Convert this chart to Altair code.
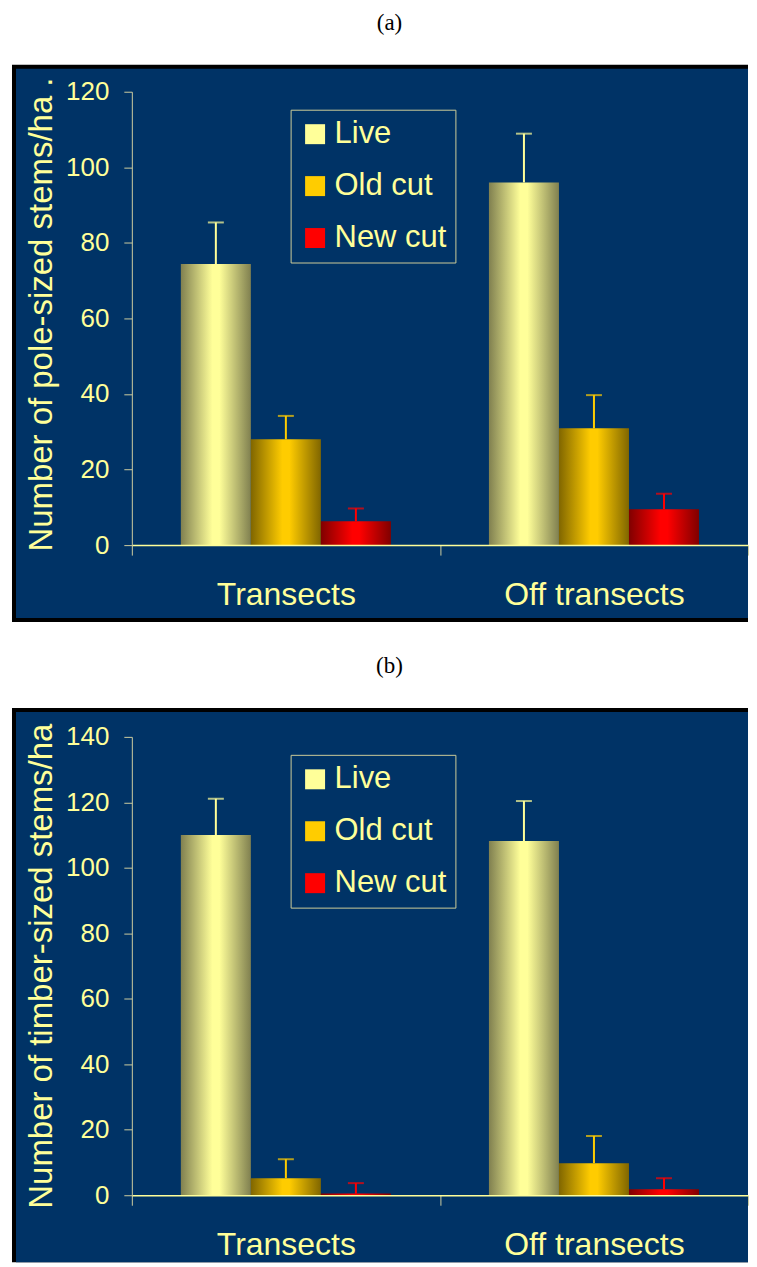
import altair as alt
import pandas as pd

# ---------------- data ----------------
groups = ["Transects", "Off transects"]
series = ["Live", "Old cut", "New cut"]

# (a) pole-sized stems/ha : means and upper error (SE) per group x series
pole_means = [74.4, 28.0, 6.3, 96.0, 30.9, 9.5]
pole_errs = [11.0, 6.2, 3.4, 12.9, 8.8, 4.1]

# (b) timber-sized stems/ha
timber_means = [110.0, 5.2, 0.5, 108.2, 9.8, 1.8]
timber_errs = [11.1, 5.8, 3.2, 12.2, 8.3, 3.4]

y_ticks_a = [0, 20, 40, 60, 80, 100, 120]
y_ticks_b = [0, 20, 40, 60, 80, 100, 120, 140]

light_colors = ["#FFFF99", "#FFCC00", "#FF0000"]
dark_colors = ["#808050", "#806600", "#800000"]

# ---------------- styling ----------------
FONT = "Liberation Sans"
NAVY = "#003366"
PALE = "#FFFF99"
AXISGREY = "#CDCDA0"
W = 617


def frame(means, errs):
    rows = []
    i = 0
    for g in groups:
        for s in series:
            rows.append({"group": g, "series": s, "mean": means[i],
                         "upper": means[i] + errs[i]})
            i += 1
    return pd.DataFrame(rows)


def grad(d, l):
    return {"gradient": "linear", "x1": 0, "x2": 1, "y1": 0, "y2": 0,
            "stops": [{"offset": 0, "color": d},
                      {"offset": 0.45, "color": l},
                      {"offset": 0.55, "color": l},
                      {"offset": 1, "color": d}]}


conds = [{"test": f"datum.series === '{s}'", "value": grad(d, l)}
         for s, d, l in zip(series, dark_colors, light_colors)]


def panel(df, ymax, yticks, H, ytitle, title_y, caption, caption_y,
          white_top, black_top, bottom, bottom_border):
    one = pd.DataFrame({"k": [0]})
    base = alt.Chart(one)
    white = base.mark_rect(fill="white").encode(
        x=alt.value(-120), x2=alt.value(W),
        y=alt.value(white_top), y2=alt.value(black_top))
    black = base.mark_rect(fill="black").encode(
        x=alt.value(-120), x2=alt.value(W),
        y=alt.value(black_top), y2=alt.value(bottom))
    navy = base.mark_rect(fill=NAVY).encode(
        x=alt.value(-116), x2=alt.value(W),
        y=alt.value(black_top + 4), y2=alt.value(bottom - bottom_border))
    cap = base.mark_text(text=caption, font="Liberation Serif", fontSize=23,
                         color="black", align="center",
                         baseline="alphabetic").encode(
        x=alt.value(258), y=alt.value(caption_y))

    xaxis = alt.Axis(title=None, labelAngle=0, labelFont=FONT,
                     labelFontSize=32, labelColor=PALE, labelPadding=49,
                     labelBaseline="alphabetic", labelLimit=0,
                     tickBand="extent", tickSize=10, tickColor=AXISGREY,
                     domainColor=PALE, domainWidth=1.5, grid=False, zindex=1)
    yaxis = alt.Axis(values=yticks, title=ytitle, titleX=-80, titleY=title_y,
                     titleAngle=270, titleAlign="left",
                     titleBaseline="alphabetic", titleFont=FONT,
                     titleFontSize=33, titleFontWeight="normal",
                     titleColor=PALE, labelFont=FONT, labelFontSize=26,
                     labelColor=PALE, labelPadding=15, tickSize=8,
                     tickColor=AXISGREY, domainColor=AXISGREY, grid=False,
                     zindex=1)
    legend = alt.Legend(title=None, orient="none", legendX=159, legendY=18,
                        strokeColor="#CCCC99", padding=9,
                        symbolType="square", symbolSize=400,
                        symbolStrokeWidth=0, symbolOpacity=1,
                        labelFont=FONT, labelFontSize=31, labelColor=PALE,
                        labelOffset=4, rowPadding=20, labelLimit=300)

    x_enc = alt.X("group:N", sort=groups,
                  scale=alt.Scale(domain=groups, paddingInner=0,
                                  paddingOuter=0), axis=xaxis)
    xo = alt.XOffset("series:N", sort=series,
                     scale=alt.Scale(domain=series, paddingInner=0,
                                     paddingOuter=0.7))
    yscale = alt.Scale(domain=[0, ymax], nice=False, zero=True)
    err_color = alt.Color("series:N", sort=series,
                          scale=alt.Scale(domain=series, range=light_colors),
                          legend=None)

    bars = alt.Chart(df).mark_bar(strokeWidth=0).encode(
        x=x_enc, xOffset=xo,
        y=alt.Y("mean:Q", scale=yscale, axis=yaxis),
        fill=alt.Fill("series:N", sort=series,
                      scale=alt.Scale(domain=series, range=light_colors),
                      legend=legend, condition=conds))
    rules = alt.Chart(df).mark_rule(strokeWidth=2).encode(
        x=x_enc, xOffset=xo,
        y=alt.Y("mean:Q", scale=yscale, axis=yaxis), y2="upper:Q",
        color=err_color)
    caps = alt.Chart(df).mark_tick(size=16, thickness=2).encode(
        x=x_enc, xOffset=xo,
        y=alt.Y("upper:Q", scale=yscale, axis=yaxis),
        color=err_color)

    return alt.layer(white, black, navy, cap, bars, rules, caps).properties(
        width=W, height=H)


panel_a = panel(frame(pole_means, pole_errs), 120, y_ticks_a, 454,
                "Number of pole-sized stems/ha .", 460, "(a)", -62,
                -83, -27, 531, 4)
panel_b = panel(frame(timber_means, timber_errs), 140, y_ticks_b, 459,
                "Number of timber-sized stems/ha", 472, "(b)", -64,
                -115, -29, 526, 0)

chart = alt.vconcat(panel_a, panel_b, spacing=0).resolve_scale(
    x="independent", y="independent", fill="independent",
    color="independent", xOffset="independent"
).resolve_axis(x="independent", y="independent").resolve_legend(
    fill="independent", color="independent"
).properties(
    padding={"left": 4, "top": 0, "right": 0, "bottom": 0},
    background="white"
).configure_view(stroke=None)

chart.save("out.html", embed_options={"renderer": "svg", "actions": False})
